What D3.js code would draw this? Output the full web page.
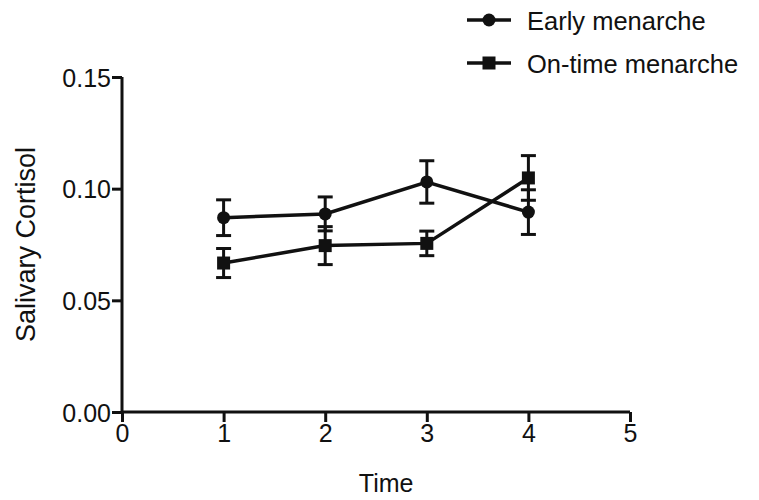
<!DOCTYPE html>
<html lang="en">
<head>
    <meta charset="UTF-8">
    <title>Salivary Cortisol</title>
    <style>
        body { margin: 0; background: #fff; }
        text { font-family: "Liberation Sans", Arial, sans-serif; fill: #111; }
    </style>
</head>
<body>
<svg height="500" width="759"></svg>

<script src="https://d3js.org/d3.v7.min.js"></script>
<script>

    // data
    var times = [1, 2, 3, 4];
    var earlyMean = [0.087, 0.0887, 0.103, 0.0895];
    var earlyErr = [0.008, 0.0076, 0.0095, 0.010];
    var ontimeMean = [0.0667, 0.0745, 0.0755, 0.1048];
    var ontimeErr = [0.0065, 0.0085, 0.0055, 0.010];
    var xTicks = [0, 1, 2, 3, 4, 5];
    var yTicks = [0, 0.05, 0.10, 0.15];
    var seriesNames = ["Early menarche", "On-time menarche"];

    var margins = {top: 77, right: 129, bottom: 88, left: 122};

    var svg = d3.select("svg");
    var width = +svg.attr("width") - margins.left - margins.right;
    var height = +svg.attr("height") - margins.top - margins.bottom;

    var g = svg.append("g").attr("transform", "translate(" + margins.left + "," + margins.top + ")");

    var x = d3.scaleLinear().domain([0, 5]).range([0, width]);
    var y = d3.scaleLinear().domain([0, 0.15]).range([height, 0]);

    var xAxis = g.append("g")
        .attr("transform", "translate(0," + height + ")")
        .call(d3.axisBottom(x).tickValues(xTicks).tickSize(10).tickPadding(2).tickFormat(d3.format("d")));
    var yAxis = g.append("g")
        .call(d3.axisLeft(y).tickValues(yTicks).tickSize(10).tickPadding(1).tickFormat(d3.format(".2f")));

    [xAxis, yAxis].forEach(function(a) {
        a.select(".domain").attr("stroke", "#111").attr("stroke-width", 3)
            .attr("d", a === xAxis ? "M0,0H" + width : "M0,0V" + height);
        a.selectAll(".tick line").attr("stroke", "#111").attr("stroke-width", 3);
        a.selectAll(".tick text").attr("font-size", 25).attr("fill", "#111")
            .attr("font-family", "Liberation Sans, Arial, sans-serif");
    });
    yAxis.selectAll(".tick text").attr("dy", "0.36em");

    // axis titles
    svg.append("text")
        .attr("x", margins.left + x(2.6))
        .attr("y", 492)
        .attr("text-anchor", "middle")
        .attr("font-size", 25)
        .text("Time");

    svg.append("text")
        .attr("transform", "translate(35," + (margins.top + y(0.075)) + ") rotate(-90)")
        .attr("text-anchor", "middle")
        .attr("font-size", 27)
        .text("Salivary Cortisol");

    var series = [
        {name: seriesNames[0], mean: earlyMean, err: earlyErr, shape: "circle"},
        {name: seriesNames[1], mean: ontimeMean, err: ontimeErr, shape: "square"}
    ];

    var line = d3.line()
        .x(function(d) { return x(d.t); })
        .y(function(d) { return y(d.v); });

    var capHalf = 7.5;

    series.forEach(function(s) {
        var pts = times.map(function(t, i) { return {t: t, v: s.mean[i], e: s.err[i]}; });

        g.append("path")
            .datum(pts)
            .attr("d", line)
            .attr("fill", "none")
            .attr("stroke", "#111")
            .attr("stroke-width", 3.5);

        var bars = g.append("g").selectAll("g").data(pts).enter().append("g");
        bars.append("line")
            .attr("x1", function(d) { return x(d.t); })
            .attr("x2", function(d) { return x(d.t); })
            .attr("y1", function(d) { return y(d.v - d.e); })
            .attr("y2", function(d) { return y(d.v + d.e); })
            .attr("stroke", "#111").attr("stroke-width", 3);
        [-1, 1].forEach(function(sign) {
            bars.append("line")
                .attr("x1", function(d) { return x(d.t) - capHalf; })
                .attr("x2", function(d) { return x(d.t) + capHalf; })
                .attr("y1", function(d) { return y(d.v + sign * d.e); })
                .attr("y2", function(d) { return y(d.v + sign * d.e); })
                .attr("stroke", "#111").attr("stroke-width", 3);
        });

        if (s.shape === "circle") {
            g.selectAll(null).data(pts).enter().append("circle")
                .attr("cx", function(d) { return x(d.t); })
                .attr("cy", function(d) { return y(d.v); })
                .attr("r", 6.5)
                .attr("fill", "#111");
        } else {
            g.selectAll(null).data(pts).enter().append("rect")
                .attr("x", function(d) { return x(d.t) - 6.5; })
                .attr("y", function(d) { return y(d.v) - 6.5; })
                .attr("width", 13).attr("height", 13)
                .attr("fill", "#111");
        }
    });

    // legend
    var legend = svg.append("g").attr("transform", "translate(467,20)");
    var items = legend.selectAll("g").data(series).enter().append("g")
        .attr("transform", function(d, i) { return "translate(0," + (i * 43) + ")"; });
    items.append("line")
        .attr("x1", 0).attr("x2", 44).attr("y1", 0).attr("y2", 0)
        .attr("stroke", "#111").attr("stroke-width", 3.5);
    items.filter(function(d) { return d.shape === "circle"; }).append("circle")
        .attr("cx", 22).attr("cy", 0).attr("r", 6.5).attr("fill", "#111");
    items.filter(function(d) { return d.shape === "square"; }).append("rect")
        .attr("x", 15.5).attr("y", -6.5).attr("width", 13).attr("height", 13).attr("fill", "#111");
    items.append("text")
        .attr("x", 60).attr("y", 1).attr("dy", "0.36em")
        .attr("font-size", 25.5)
        .text(function(d) { return d.name; });

</script>
</body>
</html>
